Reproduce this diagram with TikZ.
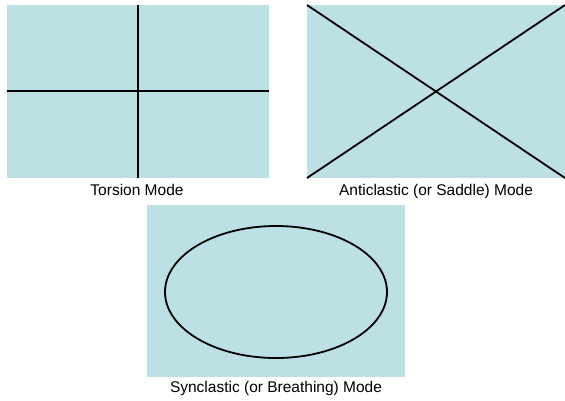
\documentclass[tikz,border=0pt]{standalone}
\usepackage{fontspec}
\setmainfont{Liberation Sans}
\definecolor{plate}{RGB}{188,224,227}
\begin{document}
\begin{tikzpicture}[x=1pt,y=-1pt,
  platebox/.style={fill=plate,draw=none},
  modeline/.style={draw=black,line width=1.8pt},
  caption/.style={font=\fontsize{15.5}{17}\selectfont,inner sep=0pt,anchor=base}]
\useasboundingbox[fill=white] (0,0) rectangle (565,400);
% Torsion
\fill[plate] (7,5) rectangle (269,178);
\coordinate (t1) at (138,5);
\coordinate (t2) at (138,178);
\coordinate (t3) at (7,91);
\coordinate (t4) at (269,91);
\draw[modeline] (t1) -- (t2);
\draw[modeline] (t3) -- (t4);
\node[caption] (tl) at (137,195) {Torsion Mode};
% Anticlastic
\fill[plate] (307,5) rectangle (565,178);
\coordinate (a1) at (307,5);
\coordinate (a2) at (565,178);
\coordinate (a3) at (307,178);
\coordinate (a4) at (565,5);
\draw[modeline] (a1) -- (a2);
\draw[modeline] (a3) -- (a4);
\node[caption] (al) at (436,195) {Anticlastic (or Saddle) Mode};
% Synclastic
\fill[plate] (147,205) rectangle (405,377);
\coordinate (sc) at (276,292);
\draw[modeline] (sc) ellipse [x radius=111,y radius=66];
\node[caption] (sl) at (276,392) {Synclastic (or Breathing) Mode};
\end{tikzpicture}
\end{document}
